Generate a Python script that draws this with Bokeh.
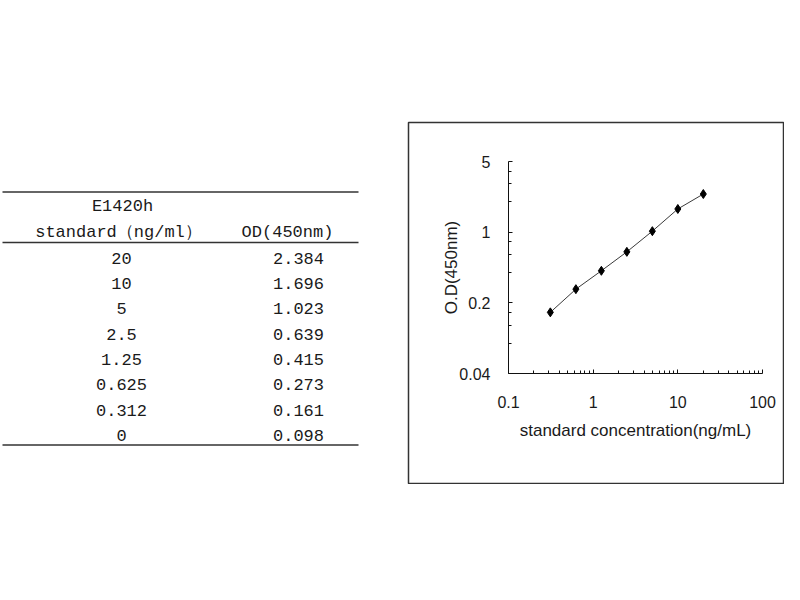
import math

from bokeh.core.properties import value
from bokeh.embed import file_html
from bokeh.layouts import row
from bokeh.models import FixedTicker, LogAxis, LogScale, Range1d
from bokeh.plotting import figure
from bokeh.resources import INLINE


# standard curve data (table + chart)
CONCENTRATION = [20, 10, 5, 2.5, 1.25, 0.625, 0.312, 0]
CONCENTRATION_LABELS = ["20", "10", "5", "2.5", "1.25", "0.625", "0.312", "0"]
OD_450 = [2.384, 1.696, 1.023, 0.639, 0.415, 0.273, 0.161, 0.098]
OD_LABELS = ["2.384", "1.696", "1.023", "0.639", "0.415", "0.273", "0.161", "0.098"]

TABLE_TITLE = "E1420h"
HEADER_CONC = "standard（ng/ml）"
HEADER_OD = "OD(450nm)"

# chart axes
X_TICKS = [0.1, 1, 10, 100]
X_MINOR = [0.2, 0.3, 0.4, 0.5, 0.6, 0.7, 0.8, 0.9,
           2, 3, 4, 5, 6, 7, 8, 9,
           20, 30, 40, 50, 60, 70, 80, 90]
Y_TICKS = [0.04, 0.2, 1, 5]
Y_MINOR = [0.08, 0.12, 0.16, 0.4, 0.6, 0.8, 2, 3, 4]
X_LABEL = "standard concentration(ng/mL)"
Y_LABEL = "O.D(450nm)"

TEXT_COLOR = "#1a1a1a"
LINE_COLOR = "#333333"

# page layout in page pixels (the bokeh page has no body margin)
TABLE_W = 407
BOX_LEFT, BOX_TOP, BOX_W, BOX_H = 408, 122, 375, 361
AX_LEFT, AX_RIGHT = 508, 762      # x pixel of 0.1 and 100
AX_TOP, AX_BOTTOM = 161, 373      # y pixel of 5 and 0.04


# ---- table on the left ----
# same vertical borders as the chart so the row keeps both frames aligned
table = figure(
    frame_width=TABLE_W, frame_height=BOX_H,
    x_range=Range1d(0, TABLE_W), y_range=Range1d(BOX_TOP + BOX_H, BOX_TOP),
    x_axis_type=None, y_axis_type=None,
    toolbar_location=None, output_backend="svg",
    min_border=0, min_border_top=BOX_TOP, min_border_bottom=1,
    outline_line_color=None,
)
table.grid.visible = False

# rules of the table
table.segment(x0=[2, 2, 2], y0=[191.5, 242, 444.5], x1=[358, 358, 358], y1=[191.5, 242, 444.5],
              line_color=LINE_COLOR, line_width=1.5)

font = value("Liberation Mono")
table.text(x=[122, 118, 287], y=[206, 231.5, 231.5], text=[TABLE_TITLE, HEADER_CONC, HEADER_OD],
           text_font=font, text_font_size="17px", text_color=TEXT_COLOR,
           text_align="center", text_baseline="middle")

row_y = [257.7 + 25.3 * i for i in range(len(CONCENTRATION))]
table.text(x=[121] * len(row_y), y=row_y, text=CONCENTRATION_LABELS,
           text_font=font, text_font_size="17px", text_color=TEXT_COLOR,
           text_align="center", text_baseline="middle")
table.text(x=[298] * len(row_y), y=row_y, text=OD_LABELS,
           text_font=font, text_font_size="17px", text_color=TEXT_COLOR,
           text_align="center", text_baseline="middle")


# ---- log-log standard curve on the right ----
x_px = (AX_RIGHT - AX_LEFT) / math.log10(X_TICKS[-1] / X_TICKS[0])
y_px = (AX_BOTTOM - AX_TOP) / math.log10(Y_TICKS[-1] / Y_TICKS[0])
x_start = X_TICKS[0] / 10 ** ((AX_LEFT - BOX_LEFT) / x_px)
x_end = X_TICKS[-1] * 10 ** ((BOX_LEFT + BOX_W - AX_RIGHT) / x_px)
y_start = Y_TICKS[0] / 10 ** ((BOX_TOP + BOX_H - AX_BOTTOM) / y_px)
y_end = Y_TICKS[-1] * 10 ** ((AX_TOP - BOX_TOP) / y_px)

chart = figure(
    frame_width=BOX_W, frame_height=BOX_H,
    x_range=Range1d(x_start, x_end), y_range=Range1d(y_start, y_end),
    x_axis_type=None, y_axis_type=None,
    toolbar_location=None, output_backend="svg",
    min_border=0, min_border_left=BOX_LEFT - TABLE_W, min_border_right=1,
    min_border_top=BOX_TOP, min_border_bottom=1,
    outline_line_color=LINE_COLOR, outline_line_width=1.5,
)
chart.x_scale = LogScale()
chart.y_scale = LogScale()
chart.grid.visible = False

xaxis = LogAxis(
    ticker=FixedTicker(ticks=X_TICKS, minor_ticks=X_MINOR),
    fixed_location=Y_TICKS[0], bounds=(X_TICKS[0], X_TICKS[-1]),
    axis_label=X_LABEL,
)
yaxis = LogAxis(
    ticker=FixedTicker(ticks=Y_TICKS, minor_ticks=Y_MINOR),
    fixed_location=X_TICKS[0], bounds=(Y_TICKS[0], Y_TICKS[-1]),
    axis_label=Y_LABEL,
)
for ax, ticks in ((xaxis, X_TICKS), (yaxis, Y_TICKS)):
    ax.major_label_overrides = {t: f"{t:g}" for t in ticks}
    ax.major_tick_in = 4
    ax.major_tick_out = 0
    ax.minor_tick_in = 3
    ax.minor_tick_out = 0
    ax.axis_line_color = "#111111"
    ax.major_tick_line_color = "#111111"
    ax.minor_tick_line_color = "#111111"
    ax.major_label_text_font = "Liberation Sans"
    ax.major_label_text_font_size = "16px"
    ax.major_label_text_color = TEXT_COLOR
    ax.axis_label_text_font = "Liberation Sans"
    ax.axis_label_text_font_size = "17px"
    ax.axis_label_text_font_style = "normal"
    ax.axis_label_text_color = TEXT_COLOR

xaxis.major_label_standoff = 22
xaxis.axis_label_standoff = 10
yaxis.major_label_standoff = 18
yaxis.axis_label_standoff = -5

chart.add_layout(xaxis, "below")
chart.add_layout(yaxis, "left")

# the blank standard (0 ng/ml) cannot go on a log axis
xs = [c for c in CONCENTRATION if c > 0]
ys = [od for c, od in zip(CONCENTRATION, OD_450) if c > 0]
chart.line(xs, ys, line_color="#3a3a3a", line_width=1)
chart.scatter(xs, ys, marker="diamond", size=9, color="#000000")

layout = row(table, chart)
open("out.html", "w").write(file_html(layout, INLINE))
